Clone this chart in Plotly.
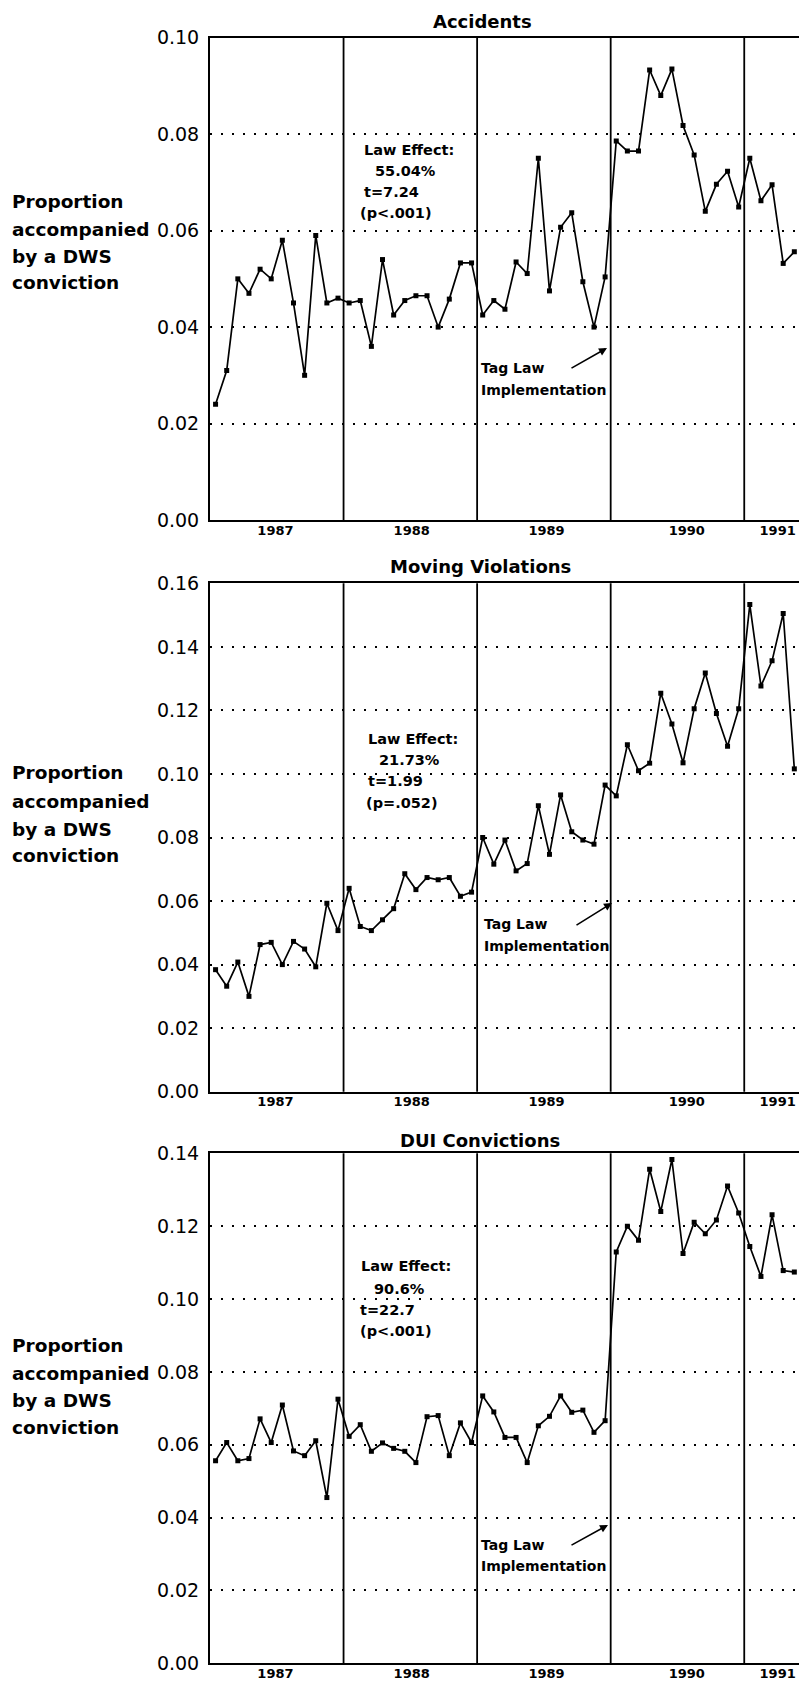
import plotly.graph_objects as go

# ---------------- data ----------------
years = [1987, 1988, 1989, 1990, 1991]
year_labels = ["1987", "1988", "1989", "1990", "1991"]
panel_titles = ["Accidents", "Moving Violations", "DUI Convictions"]

accidents = [0.024, 0.031, 0.050, 0.047, 0.052, 0.050, 0.058, 0.045, 0.030, 0.059, 0.045, 0.046,
             0.045, 0.0455, 0.036, 0.054, 0.0425, 0.0455, 0.0465, 0.0465, 0.040, 0.0458, 0.0533, 0.0533,
             0.0425, 0.0455, 0.0437, 0.0535, 0.0511, 0.075, 0.0475, 0.0607, 0.0637, 0.0494, 0.040, 0.0504,
             0.0786, 0.0765, 0.0765, 0.0933, 0.088, 0.0935, 0.0818, 0.0757, 0.064, 0.0696, 0.0723, 0.0649,
             0.075, 0.0662, 0.0695, 0.0532, 0.0556]

moving = [0.0384, 0.0332, 0.0408, 0.030, 0.0463, 0.047, 0.040, 0.0473, 0.0449, 0.0393, 0.0593, 0.0507,
          0.064, 0.052, 0.0507, 0.0541, 0.0576, 0.0686, 0.0636, 0.0674, 0.0667, 0.0674, 0.0615, 0.0628,
          0.080, 0.0716, 0.0792, 0.0695, 0.0718, 0.090, 0.0747, 0.0934, 0.0818, 0.0792, 0.0779, 0.0965,
          0.0931, 0.1092, 0.101, 0.1034, 0.1254, 0.1157, 0.1035, 0.1205, 0.1318, 0.119, 0.1087, 0.1205,
          0.1533, 0.1277, 0.1356, 0.1505, 0.1016]

dui = [0.0556, 0.0606, 0.0556, 0.0562, 0.0671, 0.0606, 0.0709, 0.0583, 0.057, 0.0611, 0.0455, 0.0725,
       0.0623, 0.0655, 0.0582, 0.0605, 0.059, 0.0582, 0.0551, 0.0677, 0.068, 0.057, 0.066, 0.0606,
       0.0734, 0.069, 0.062, 0.062, 0.0551, 0.0652, 0.0678, 0.0734, 0.0689, 0.0695, 0.0634, 0.0666,
       0.1129, 0.12, 0.1161, 0.1356, 0.124, 0.1383, 0.1125, 0.1211, 0.1179, 0.1217, 0.131, 0.1236,
       0.1144, 0.1062, 0.1231, 0.1078, 0.1074]

y_max = [0.10, 0.16, 0.14]

law_effect_texts = [
    ["Law Effect:", "55.04%", "t=7.24", "(p<.001)"],
    ["Law Effect:", "21.73%", "t=1.99", "(p=.052)"],
    ["Law Effect:", "90.6%", "t=22.7", "(p<.001)"],
]
ylabel_lines = ["Proportion", "accompanied", "by a DWS", "conviction"]
tag_lines = ["Tag Law", "Implementation"]

# ---------------- layout geometry ----------------
W, H = 799, 1685
def px(x):
    return x / W
def py(y):
    return 1 - y / H

series = [accidents, moving, dui]
panel_top = [37.7, 583.3, 1153.3]
panel_bot = [520.0, 1091.7, 1663.3]
title_y = [21.7, 566.7, 1140.7]
title_x = [482, 480, 480]
law_pos = [
    [(361.7, 150), (373, 171), (361.7, 192), (358.3, 213)],
    [(366, 739), (377, 760), (366, 781), (364, 803)],
    [(359, 1266), (372, 1289), (358, 1310), (358, 1331)],
]
ylabel_y = [[201, 229, 257, 283], [773, 801, 829, 855], [1345, 1373, 1400, 1427]]
tag_pos = [[(479, 368), (479, 390)], [(482, 924), (482, 946)], [(479, 1545), (479, 1566)]]
arrow_tail = [(570, 369), (575, 926), (570, 1546)]
arrow_tip = [(607, 348), (612, 903), (608, 1525)]

x_left_px = 210
x_range = [1987, 1991.41]
tick_pos = [1987.49, 1988.51, 1989.52, 1990.57, 1991.25]

FONT = "DejaVu Sans"

fig = go.Figure()
shapes = []
annotations = []
layout = dict(
    width=W, height=H,
    margin=dict(l=0, r=0, t=0, b=0, pad=0),
    paper_bgcolor="white", plot_bgcolor="white",
    showlegend=False,
    font=dict(family=FONT, color="black"),
)

for i, vals in enumerate(series):
    n = i + 1
    suf = "" if n == 1 else str(n)
    xs = [years[0] + (m + 0.5) / 12 for m in range(len(vals))]
    fig.add_trace(go.Scatter(
        x=xs, y=vals, mode="lines+markers",
        line=dict(color="black", width=1.7),
        marker=dict(symbol="square", size=5, color="black"),
        xaxis=f"x{suf}", yaxis=f"y{suf}", hoverinfo="skip",
    ))
    layout[f"xaxis{suf}"] = dict(
        domain=[px(x_left_px), 1], range=x_range, anchor=f"y{suf}",
        showline=True, mirror=True, linecolor="black", linewidth=2,
        showgrid=False, zeroline=False, ticks="",
        tickvals=tick_pos, ticktext=year_labels,
        tickfont=dict(family=FONT, size=13, weight="bold", color="black"),
        ticklabelstandoff=-3, ticklabeloverflow="allow",
        automargin=False, fixedrange=True,
    )
    layout[f"yaxis{suf}"] = dict(
        domain=[py(panel_bot[i]), py(panel_top[i])], range=[0, y_max[i]], anchor=f"x{suf}",
        dtick=0.02, tick0=0, tickformat=".2f",
        showline=True, mirror=False, linecolor="black", linewidth=2,
        showgrid=True, gridcolor="black", gridwidth=1.5, griddash="2px,9px",
        zeroline=False, ticks="",
        tickfont=dict(family=FONT, size=19, color="black"),
        ticklabelstandoff=5, automargin=False, fixedrange=True,
    )
    # year dividers
    for yr in years[1:]:
        shapes.append(dict(type="line", xref=f"x{suf}", yref=f"y{suf} domain",
                           x0=yr, x1=yr, y0=0, y1=1,
                           line=dict(color="black", width=1.8)))
    # title
    annotations.append(dict(text=f"<b>{panel_titles[i]}</b>", xref="paper", yref="paper",
                            x=px(title_x[i]), y=py(title_y[i]), xanchor="center", yanchor="middle",
                            showarrow=False, font=dict(family=FONT, size=18, color="black")))
    # y label lines
    for txt, yy in zip(ylabel_lines, ylabel_y[i]):
        annotations.append(dict(text=f"<b>{txt}</b>", xref="paper", yref="paper",
                                x=px(10), y=py(yy), xanchor="left", yanchor="middle",
                                showarrow=False, font=dict(family=FONT, size=18.5, color="black")))
    # law effect
    for txt, (lx, ly) in zip(law_effect_texts[i], law_pos[i]):
        annotations.append(dict(text=f"<b>{txt}</b>", xref="paper", yref="paper",
                                x=px(lx), y=py(ly), xanchor="left", yanchor="middle",
                                showarrow=False, font=dict(family=FONT, size=14.5, color="black")))
    # tag law
    for txt, (lx, ly) in zip(tag_lines, tag_pos[i]):
        annotations.append(dict(text=f"<b>{txt}</b>", xref="paper", yref="paper",
                                x=px(lx), y=py(ly), xanchor="left", yanchor="middle",
                                showarrow=False, font=dict(family=FONT, size=14, color="black")))
    tx, ty = arrow_tip[i]
    sx, sy = arrow_tail[i]
    annotations.append(dict(text="", xref="paper", yref="paper", x=px(tx), y=py(ty),
                            ax=sx - tx, ay=sy - ty, axref="pixel", ayref="pixel",
                            showarrow=True, arrowhead=2, arrowsize=1, arrowwidth=1.6,
                            arrowcolor="black", standoff=0, startstandoff=0))

layout["shapes"] = shapes
layout["annotations"] = annotations
fig.update_layout(**layout)

fig.write_html("out.html", config={"displayModeBar": False},
               post_script="document.body.style.margin='0';document.body.style.overflow='hidden';")
